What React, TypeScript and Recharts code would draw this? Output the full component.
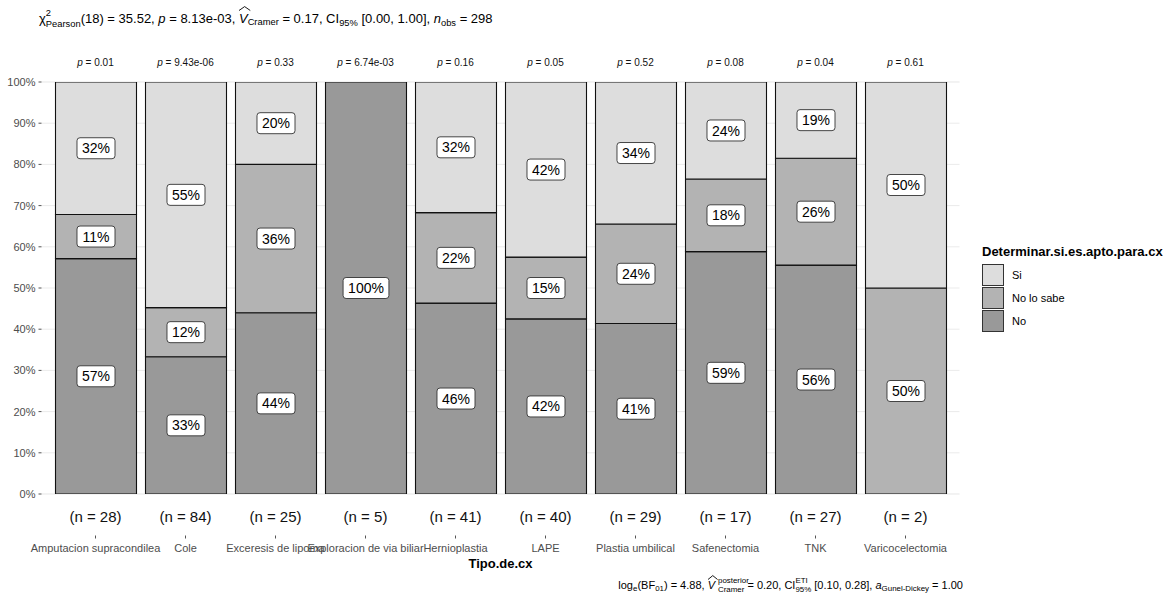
import React from 'react';
import { BarChart, Bar, XAxis, YAxis, CartesianGrid, LabelList } from 'recharts';

const categories = [
  'Amputacion supracondilea',
  'Cole',
  'Exceresis de lipoma',
  'Exploracion de via biliar',
  'Hernioplastia',
  'LAPE',
  'Plastia umbilical',
  'Safenectomia',
  'TNK',
  'Varicocelectomia',
];
const sampleSizes = [28, 84, 25, 5, 41, 40, 29, 17, 27, 2];
const pValues = ['0.01', '9.43e-06', '0.33', '6.74e-03', '0.16', '0.05', '0.52', '0.08', '0.04', '0.61'];
const noPct = [57.14, 33.33, 44, 100, 46.34, 42.5, 41.38, 58.82, 55.56, 0];
const noLoSabePct = [10.71, 11.9, 36, 0, 21.95, 15, 24.14, 17.65, 25.93, 50];
const siPct = [32.14, 54.76, 20, 0, 31.71, 42.5, 34.48, 23.53, 18.52, 50];
const yTicks = [0, 10, 20, 30, 40, 50, 60, 70, 80, 90, 100];
const yMinorTicks = [5, 15, 25, 35, 45, 55, 65, 75, 85, 95];
const legendLabels = ['Si', 'No lo sabe', 'No'];

const COLORS: Record<string, string> = {
  Si: '#dddddd',
  'No lo sabe': '#b3b3b3',
  No: '#999999',
};

const data = categories.map((name, i) => ({
  name,
  No: noPct[i],
  'No lo sabe': noLoSabePct[i],
  Si: siPct[i],
}));

const FONT = '"Liberation Sans", Arial, Helvetica, sans-serif';

function roundHalfEven(v: number): number {
  const f = Math.floor(v);
  const d = v - f;
  if (Math.abs(d - 0.5) < 1e-9) return f % 2 === 0 ? f : f + 1;
  return Math.round(v);
}

const BoxLabel = (props: any) => {
  const vb = props.viewBox || props;
  const x = vb.x ?? props.x;
  const y = vb.y ?? props.y;
  const width = vb.width ?? props.width;
  const height = vb.height ?? props.height;
  const value = props.value;
  if (!value || value <= 0) return null;
  const label = roundHalfEven(Number(value)) + '%';
  const digits = label.length - 1;
  const tw = digits * 7.79 + 12.45;
  const bw = tw + 10;
  const bh = 21;
  const cx = x + width / 2;
  const cy = y + height / 2;
  return (
    <g>
      <rect x={cx - bw / 2} y={cy - bh / 2} width={bw} height={bh} rx={3} ry={3} fill="#ffffff" stroke="#333333" strokeWidth={0.9} />
      <text x={cx} y={cy} dy="0.36em" textAnchor="middle" fontSize={14} fontFamily={FONT} fill="#000">
        {label}
      </text>
    </g>
  );
};

const BottomTick = (props: any) => {
  const { x, payload } = props;
  const i = categories.indexOf(payload.value);
  return (
    <g>
      <text x={x} y={516.5} dy="0.36em" textAnchor="middle" fontSize={15} fontFamily={FONT} fill="#111">
        {'(n = ' + sampleSizes[i] + ')'}
      </text>
      <line x1={x} x2={x} y1={535.5} y2={538.5} stroke="#555" strokeWidth={1} />
      <text x={x} y={548} dy="0.36em" textAnchor="middle" fontSize={11} fontFamily={FONT} fill="#4d4d4d">
        {payload.value}
      </text>
    </g>
  );
};

const TopTick = (props: any) => {
  const { x, payload } = props;
  const i = categories.indexOf(payload.value);
  return (
    <text x={x} y={62} dy="0.36em" textAnchor="middle" fontSize={10} fontFamily={FONT} fill="#111">
      <tspan fontStyle="italic">p</tspan>
      <tspan>{' = ' + pValues[i]}</tspan>
    </text>
  );
};

const AxisTitle = (props: any) => {
  const vb = props.viewBox || { x: 41.5, width: 918 };
  return (
    <text x={vb.x + vb.width / 2} y={563} dy="0.36em" textAnchor="middle" fontSize={13} fontWeight="bold" fontFamily={FONT} fill="#000">
      Tipo.de.cx
    </text>
  );
};

const Sub = ({ children, top = '0.3em' }: any) => (
  <span style={{ fontSize: '0.72em', position: 'relative', top }}>{children}</span>
);

const Stack = ({ sup, sub, gap = 0 }: any) => (
  <span style={{ position: 'relative', display: 'inline-block', fontSize: '0.72em', lineHeight: 1, marginLeft: gap }}>
    <span style={{ position: 'relative', top: '0.4em' }}>{sub}</span>
    <span style={{ position: 'absolute', left: 0, top: '-0.75em' }}>{sup}</span>
  </span>
);

const Hat = ({ children }: any) => (
  <span style={{ position: 'relative', display: 'inline-block', fontStyle: 'italic', lineHeight: 1 }}>
    {children}
    <svg
      width="130%"
      height="5"
      viewBox="0 0 10 5"
      preserveAspectRatio="none"
      style={{ position: 'absolute', left: '0.02em', top: '-0.45em', overflow: 'visible' }}
    >
      <polyline points="0,4.5 5,0.6 10,4.5" fill="none" stroke="#000" strokeWidth={0.9} vectorEffect="non-scaling-stroke" />
    </svg>
  </span>
);

const Legend = () => (
  <div style={{ position: 'absolute', left: 982, top: 244, fontFamily: FONT }}>
    <div style={{ fontSize: 13, fontWeight: 'bold', lineHeight: '16px', whiteSpace: 'nowrap', color: '#000' }}>
      Determinar.si.es.apto.para.cx
    </div>
    <div style={{ marginTop: 3 }}>
      {legendLabels.map((l) => (
        <div key={l} style={{ display: 'flex', alignItems: 'center', height: 23.3 }}>
          <div
            style={{
              width: 20,
              height: 20,
              background: COLORS[l],
              border: '1.2px solid #333',
              boxSizing: 'content-box',
            }}
          />
          <span style={{ fontSize: 11, marginLeft: 8, color: '#000' }}>{l}</span>
        </div>
      ))}
    </div>
  </div>
);

export default function App() {
  return (
    <div style={{ position: 'absolute', left: 0, top: 0, width: 1167, height: 594, background: '#fff', fontFamily: FONT }}>
      <BarChart width={1167} height={594} data={data} margin={{ top: 0, right: 207.5, bottom: 0, left: 0 }}>
        <CartesianGrid yAxisId="minor" vertical={false} stroke="#f2f2f2" strokeWidth={0.8} />
        <CartesianGrid vertical={false} stroke="#ebebeb" strokeWidth={1} />
        <XAxis
          dataKey="name"
          height={100}
          padding={{ left: 9, right: 9 }}
          axisLine={false}
          tickLine={false}
          interval={0}
          tick={<BottomTick />}
          label={<AxisTitle />}
        />
        <XAxis
          xAxisId="top"
          orientation="top"
          dataKey="name"
          height={82}
          padding={{ left: 9, right: 9 }}
          axisLine={false}
          tickLine={false}
          interval={0}
          tick={<TopTick />}
        />
        <YAxis
          width={41.5}
          domain={[0, 100]}
          ticks={yTicks}
          type="number"
          allowDataOverflow
          tickFormatter={(v: number) => v + '%'}
          axisLine={false}
          tickSize={3}
          tickMargin={3}
          tickLine={{ stroke: '#555' }}
          tick={{ fontSize: 11, fill: '#4d4d4d', fontFamily: FONT }}
        />
        <YAxis yAxisId="minor" hide domain={[0, 100]} ticks={yMinorTicks} type="number" />
        <Bar dataKey="No" stackId="a" fill={COLORS['No']} stroke="#111" strokeWidth={1.1} barSize={81} isAnimationActive={false}>
          <LabelList dataKey="No" content={<BoxLabel />} />
        </Bar>
        <Bar dataKey="No lo sabe" stackId="a" fill={COLORS['No lo sabe']} stroke="#111" strokeWidth={1.1} barSize={81} isAnimationActive={false}>
          <LabelList dataKey="No lo sabe" content={<BoxLabel />} />
        </Bar>
        <Bar dataKey="Si" stackId="a" fill={COLORS['Si']} stroke="#111" strokeWidth={1.1} barSize={81} isAnimationActive={false}>
          <LabelList dataKey="Si" content={<BoxLabel />} />
        </Bar>
      </BarChart>

      <div style={{ position: 'absolute', left: 39, top: 11, fontSize: 13, lineHeight: '16px', whiteSpace: 'nowrap', color: '#000' }}>
        <span>χ</span>
        <Stack sup="2" sub="Pearson" />
        (18) = 35.52, <i>p</i> = 8.13e-03, <Hat>V</Hat>
        <Sub top="0.2em">Cramer</Sub> = 0.17, CI<Sub>95%</Sub> [0.00, 1.00], <i>n</i>
        <Sub>obs</Sub> = 298
      </div>

      <div
        style={{
          position: 'absolute',
          right: 1167 - 963,
          top: 578,
          fontSize: 11,
          lineHeight: '14px',
          whiteSpace: 'nowrap',
          color: '#000',
        }}
      >
        log<Sub>e</Sub>(BF<Sub>01</Sub>) = 4.88, <Hat>V</Hat>
        <Stack sup="posterior" sub="Cramer" gap={3} /> = 0.20, CI
        <Stack sup="ETI" sub="95%" /> [0.10, 0.28], <i>a</i>
        <Sub>Gunel-Dickey</Sub> = 1.00
      </div>

      <Legend />
    </div>
  );
}
